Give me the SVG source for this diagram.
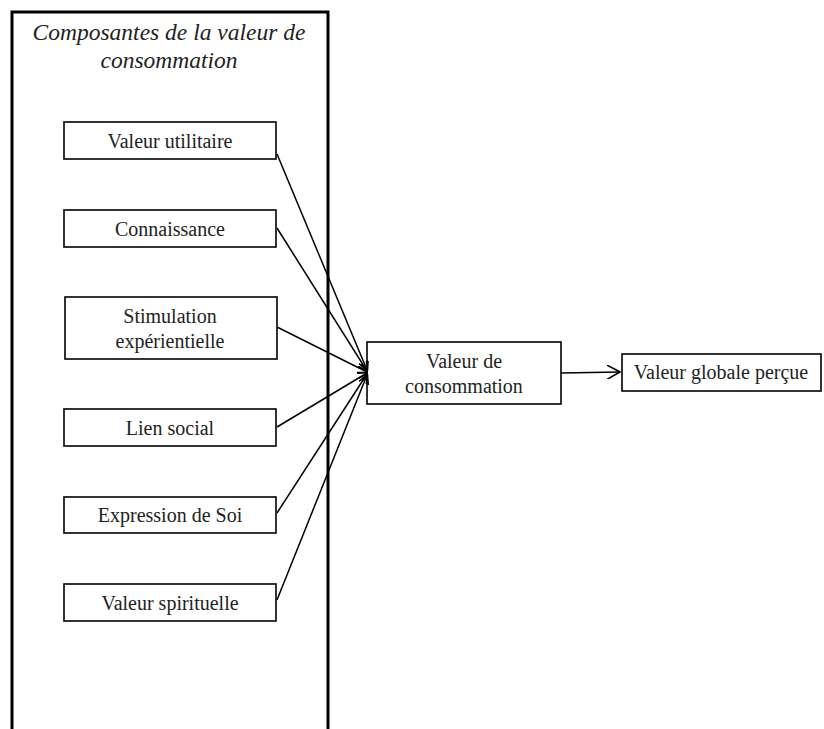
<svg xmlns="http://www.w3.org/2000/svg" width="824" height="729" viewBox="0 0 824 729">
<style>
.box{fill:#fff;stroke:#000;stroke-width:1.6}
.t{font-family:"Liberation Serif","Times New Roman",serif;font-size:20px;fill:#222;text-anchor:middle}
.ti{font-family:"Liberation Serif","Times New Roman",serif;font-size:23.5px;font-style:italic;fill:#222;text-anchor:middle}
.c{stroke:#000;stroke-width:1.5;fill:none}
</style>
<defs>
<marker id="ah" viewBox="0 0 10 10" refX="9" refY="5" markerWidth="10" markerHeight="10" markerUnits="userSpaceOnUse" orient="auto">
<path d="M0,0 L10,5 L0,10" fill="none" stroke="#000" stroke-width="1.6"/>
</marker>
<marker id="ah2" viewBox="0 0 12 12" refX="11" refY="6" markerWidth="14" markerHeight="14" markerUnits="userSpaceOnUse" orient="auto">
<path d="M0,0 L11,6 L0,12" fill="none" stroke="#000" stroke-width="1.4"/>
</marker>
</defs>
<rect width="824" height="729" fill="#fff"/>
<g id="group-composantes">
<path d="M12,731 L12,12 L328,12 L328,731" fill="none" stroke="#000" stroke-width="3"/>
<text class="ti" x="169" y="40">Composantes de la valeur de</text>
<text class="ti" x="169" y="68">consommation</text>
</g>
<g id="n-utilitaire"><rect class="box" x="64" y="122" width="212" height="37"/><text class="t" x="170" y="148">Valeur utilitaire</text></g>
<g id="n-connaissance"><rect class="box" x="64" y="210" width="212" height="37"/><text class="t" x="170" y="236">Connaissance</text></g>
<g id="n-stimulation"><rect class="box" x="65" y="297" width="212" height="62"/><text class="t" x="170" y="323">Stimulation</text><text class="t" x="170" y="348">expérientielle</text></g>
<g id="n-lien"><rect class="box" x="64" y="409" width="212" height="37"/><text class="t" x="170" y="435">Lien social</text></g>
<g id="n-expression"><rect class="box" x="64" y="497" width="212" height="36"/><text class="t" x="170" y="522">Expression de Soi</text></g>
<g id="n-spirituelle"><rect class="box" x="64" y="584" width="212" height="37"/><text class="t" x="170" y="610">Valeur spirituelle</text></g>
<g id="n-consommation"><rect class="box" x="367" y="342" width="194" height="62"/><text class="t" x="464" y="368">Valeur de</text><text class="t" x="464" y="393">consommation</text></g>
<g id="n-globale"><rect class="box" x="622" y="354" width="199" height="37"/><text class="t" x="721" y="379">Valeur globale perçue</text></g>
<g id="connectors">
<line class="c" x1="277" y1="154" x2="367" y2="370" marker-end="url(#ah)"/>
<line class="c" x1="277" y1="228" x2="367" y2="371" marker-end="url(#ah)"/>
<line class="c" x1="277" y1="327" x2="367" y2="372" marker-end="url(#ah)"/>
<line class="c" x1="277" y1="427" x2="367" y2="373" marker-end="url(#ah)"/>
<line class="c" x1="277" y1="513" x2="367" y2="374" marker-end="url(#ah)"/>
<line class="c" x1="277" y1="600" x2="367" y2="375" marker-end="url(#ah)"/>
<line class="c" x1="561" y1="373" x2="620" y2="372" marker-end="url(#ah2)"/>
</g>
</svg>
